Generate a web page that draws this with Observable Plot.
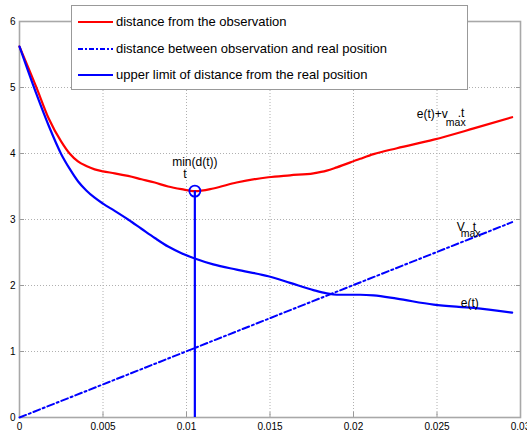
<!DOCTYPE html>
<html><head><meta charset="utf-8">
<script src="https://cdn.jsdelivr.net/npm/d3@7"></script>
<script src="https://cdn.jsdelivr.net/npm/@observablehq/plot@0.6"></script>
<style>
body{margin:0;background:#fff;font-family:"Liberation Sans",Arial,sans-serif;}
#wrap{position:relative;width:527px;height:437px;}
#legend{position:absolute;left:71px;top:5px;width:395px;height:83px;border:1px solid #999;background:#fff;font-size:13px;color:#000;}
.row{position:absolute;left:0;height:20px;width:390px;}
.row svg{position:absolute;left:6px;top:8px;}
.row span{position:absolute;left:44px;top:2px;white-space:nowrap;}
</style></head><body><div id="wrap"><div id="legend"></div></div>
<script>
// time (s)
const t = [0, 0.001, 0.00175, 0.0025, 0.003, 0.0035, 0.004, 0.0045, 0.005, 0.0057, 0.0065, 0.0073, 0.0081, 0.0089, 0.0097, 0.0105, 0.0116, 0.013, 0.0149, 0.0162, 0.0176, 0.0184, 0.019, 0.0204, 0.0212, 0.0226, 0.0248, 0.0272, 0.0295];
// distance from the observation (red)
const dObs = [5.62, 5.01, 4.53, 4.18, 4.00, 3.88, 3.81, 3.76, 3.73, 3.70, 3.66, 3.61, 3.56, 3.50, 3.46, 3.43, 3.47, 3.56, 3.64, 3.67, 3.70, 3.74, 3.79, 3.92, 3.99, 4.08, 4.21, 4.38, 4.55];
// upper limit of distance from the real position (blue)
const eUp = [5.62, 4.91, 4.42, 3.99, 3.77, 3.58, 3.44, 3.33, 3.24, 3.13, 3.00, 2.86, 2.72, 2.59, 2.49, 2.41, 2.32, 2.24, 2.14, 2.04, 1.93, 1.88, 1.86, 1.86, 1.85, 1.80, 1.71, 1.66, 1.59];
// distance between observation and real position (dash-dot)
const tReal = [0, 0.0295];
const dReal = [0, 2.96];
// minimum point
const tMin = [0.0105];
const dMin = [3.43];

const xTicks = [0, 0.005, 0.01, 0.015, 0.02, 0.025, 0.03];
const xTickLabels = ["0", "0.005", "0.01", "0.015", "0.02", "0.025", "0.03"];
const yTicks = [0, 1, 2, 3, 4, 5, 6];
const yTickLabels = ["0", "1", "2", "3", "4", "5", "6"];

const legendLabels = ["distance from the observation", "distance between observation and real position", "upper limit of distance from the real position"];

// annotations (anchored in data units)
const midText = ["min(d(t))", "t"];
const midT = [0.0105, 0.00991];
const midV = [3.815, 3.632];
const annoText = ["e(t)+v", ".t", "V", "t", "e(t)"];
const annoT = [0.02379, 0.02624, 0.02619, 0.02714, 0.02642];
const annoV = [4.54, 4.547, 2.822, 2.827, 1.68];
const subText = ["max", "max"];
const subT = [0.02553, 0.02642];
const subV = [4.418, 2.731];

const RED = "#ff0000", BLUE = "#0000ff";

const obsRows = t.map((x, i) => ({x, y: dObs[i]}));
const upRows = t.map((x, i) => ({x, y: eUp[i]}));
const realRows = tReal.map((x, i) => ({x, y: dReal[i]}));
const minRows = tMin.map((x, i) => ({x, y: dMin[i]}));
const midRows = midText.map((s, i) => ({s, x: midT[i], y: midV[i]}));
const annoRows = annoText.map((s, i) => ({s, x: annoT[i], y: annoV[i]}));
const subRows = subText.map((s, i) => ({s, x: subT[i], y: subV[i]}));

const gridStyle = {stroke: "#b0b0b0", strokeOpacity: 1, strokeDasharray: "1,2", strokeWidth: 1};

const chart = Plot.plot({
  width: 527, height: 437,
  marginLeft: 19, marginRight: 7, marginTop: 21, marginBottom: 20,
  x: {domain: [0, 0.03], label: null},
  y: {domain: [0, 6], label: null},
  style: {fontFamily: "'Liberation Sans', Arial, sans-serif", fontSize: "10px", color: "#000", background: "#fff"},
  marks: [
    Plot.gridX(xTicks, gridStyle),
    Plot.gridY(yTicks, gridStyle),
    Plot.axisX(xTicks, {anchor: "bottom", label: null, tickSize: -5, tickPadding: 10, stroke: "#999", fill: "#000",
      tickFormat: d => xTickLabels[xTicks.indexOf(d)]}),
    Plot.axisX(xTicks, {anchor: "top", label: null, tickSize: -5, stroke: "#999", tickFormat: () => ""}),
    Plot.axisY(yTicks, {anchor: "left", label: null, tickSize: -5, tickPadding: 9, stroke: "#999", fill: "#000",
      tickFormat: d => yTickLabels[yTicks.indexOf(d)]}),
    Plot.axisY(yTicks, {anchor: "right", label: null, tickSize: -5, stroke: "#999", tickFormat: () => ""}),
    Plot.frame({stroke: "#a8a8a8", strokeWidth: 1.6}),
    Plot.line(realRows, {x: "x", y: "y", stroke: BLUE, strokeWidth: 2, strokeDasharray: "7,3,2,3"}),
    Plot.line(obsRows, {x: "x", y: "y", stroke: RED, strokeWidth: 2.2, curve: "monotone-x"}),
    Plot.line(upRows, {x: "x", y: "y", stroke: BLUE, strokeWidth: 2.2, curve: "monotone-x"}),
    Plot.ruleX(minRows, {x: "x", y1: 0, y2: "y", stroke: BLUE, strokeWidth: 2.2}),
    Plot.dot(minRows, {x: "x", y: "y", r: 5.5, stroke: BLUE, strokeWidth: 1.8, fill: "none"}),
    Plot.text(midRows, {x: "x", y: "y", text: "s", textAnchor: "middle", lineAnchor: "bottom", fontSize: 12, fill: "#000"}),
    Plot.text(annoRows, {x: "x", y: "y", text: "s", textAnchor: "start", lineAnchor: "bottom", fontSize: 12, fill: "#000"}),
    Plot.text(subRows, {x: "x", y: "y", text: "s", textAnchor: "start", lineAnchor: "bottom", fontSize: 10.5, fill: "#000"})
  ]
});
document.getElementById("wrap").prepend(chart);

// legend
const legendStyles = [
  {stroke: RED, dash: null},
  {stroke: BLUE, dash: "5,2,2,2"},
  {stroke: BLUE, dash: null}
];
const legend = document.getElementById("legend");
legendLabels.forEach((label, i) => {
  const row = document.createElement("div");
  row.className = "row";
  row.style.top = (6 + i * 26.7) + "px";
  const svg = d3.create("svg").attr("width", 35).attr("height", 4);
  svg.append("line").attr("x1", 0).attr("x2", 35).attr("y1", 2).attr("y2", 2)
    .attr("stroke", legendStyles[i].stroke).attr("stroke-width", 2.2)
    .attr("stroke-dasharray", legendStyles[i].dash);
  row.appendChild(svg.node());
  const span = document.createElement("span");
  span.textContent = label;
  row.appendChild(span);
  legend.appendChild(row);
});
</script>
</body></html>
